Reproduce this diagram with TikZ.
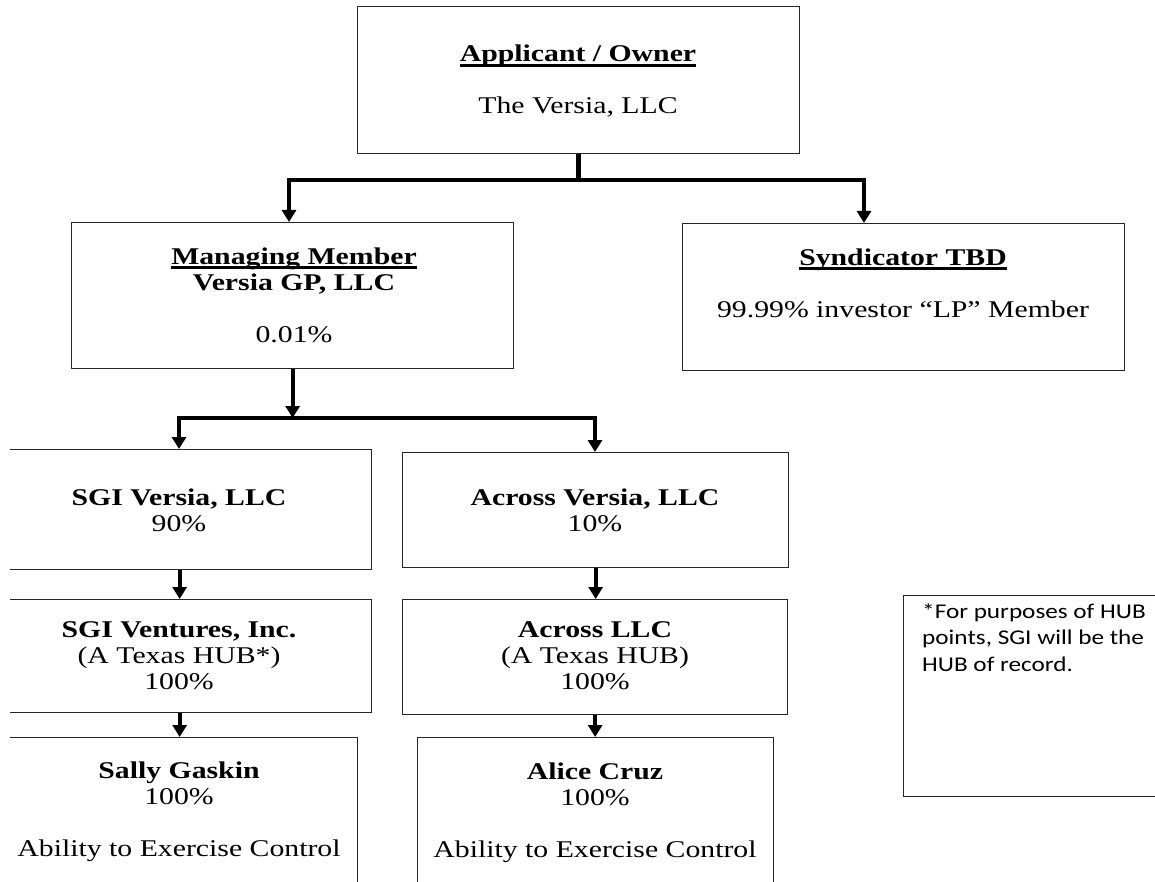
\documentclass[tikz,border=0pt]{standalone}
\usepackage{fontspec}
\setmainfont[FakeStretch=1.24]{Liberation Serif}
\newfontfamily\notefont[FakeStretch=1.2]{Carlito}
\usetikzlibrary{arrows.meta}

% heading with a heavy underline
\newcommand{\ulhead}[1]{\setbox0\hbox{\textbf{#1}}\rlap{\rule[-5pt]{\wd0}{2.6pt}}\box0}

\begin{document}
\begin{tikzpicture}[x=1pt,y=-1pt,
  box/.style={draw=black!85, line width=1.3pt, rectangle, inner sep=0pt, anchor=north west},
  % multi-line texts are placed by the baseline of their last line
  txt/.style={align=center, anchor=base, inner sep=0pt, font=\fontsize{24}{26}\selectfont},
  notetxt/.style={align=left, anchor=base west, inner sep=0pt, font=\notefont\fontsize{21}{26.5}\selectfont},
  bus/.style={line width=4pt, line cap=rect},
  stem/.style={line width=5pt},
  feed/.style={line width=4pt, -{Triangle[width=14pt,length=12pt]}},
]
\useasboundingbox (0,0) rectangle (1155,882);
\clip (10,0) rectangle (1155,882);

% ---- boxes ----
\node[box, minimum width=442pt, minimum height=147pt] (own)   at (357,6)   {};
\node[box, minimum width=442pt, minimum height=146pt] (mm)    at (71,222)  {};
\node[box, minimum width=442pt, minimum height=147pt] (syn)   at (682,223) {};
\node[box, minimum width=384pt, minimum height=120pt] (sgiv)  at (-13,449) {};
\node[box, minimum width=386pt, minimum height=115pt] (acv)   at (402,452) {};
\node[box, minimum width=384pt, minimum height=113pt] (sgvi)  at (-13,599) {};
\node[box, minimum width=385pt, minimum height=115pt] (acl)   at (402,599) {};
\node[box, minimum width=356pt, minimum height=180pt] (sally) at (1,737)   {};
\node[box, minimum width=356pt, minimum height=180pt] (alice) at (417,737) {};
\node[box, minimum width=280pt, minimum height=201pt] (note)  at (903,595) {};

% ---- texts ----
\node[txt] (ownT) at (578,114) {\ulhead{Applicant / Owner}\\[26pt]The Versia, LLC};
\node[txt] (mmT) at (294,342) {\ulhead{Managing Member}\\\textbf{Versia GP, LLC}\\[26pt]0.01\%};
\node[txt] (synT) at (903,317) {\ulhead{Syndicator TBD}\\[26pt]99.99\% investor “LP” Member};
\node[txt] (sgivT) at (179,531) {\textbf{SGI Versia, LLC}\\90\%};
\node[txt] (acvT) at (595,531) {\textbf{Across Versia, LLC}\\10\%};
\node[txt] (sgviT) at (179,689) {\textbf{SGI Ventures, Inc.}\\(A Texas HUB*)\\100\%};
\node[txt] (aclT) at (595,689) {\textbf{Across LLC}\\(A Texas HUB)\\100\%};
\node[txt] (sallyT) at (179,856) {\textbf{Sally Gaskin}\\100\%\\[26pt]Ability to Exercise Control};
\node[txt] (aliceT) at (595,857) {\textbf{Alice Cruz}\\100\%\\[26pt]Ability to Exercise Control};
\node[notetxt] (noteT) at (922,671) {*For purposes of HUB\\points, SGI will be the\\HUB of record.};

% ---- connectors ----
\coordinate (b1L) at (289,180);
\coordinate (b1R) at (864,180);
\coordinate (b2L) at (179,418);
\coordinate (b2R) at (595,418);

\draw[stem] (own.south) -- (own.south |- b1L);
\draw[bus] (b1L) -- (b1R);
\draw[feed] (b1L) -- (b1L |- mm.north);
\draw[feed] (b1R) -- (b1R |- syn.north);

\draw[feed] (mm.south) -- (mm.south |- b2L);
\draw[bus] (b2L) -- (b2R);
\draw[feed] (b2L) -- (b2L |- sgiv.north);
\draw[feed] (b2R) -- (b2R |- acv.north);

\draw[feed] (sgiv.south) -- (sgiv.south |- sgvi.north);
\draw[feed] (acv.south) -- (acv.south |- acl.north);
\draw[feed] (sgvi.south) -- (sgvi.south |- sally.north);
\draw[feed] (acl.south) -- (acl.south |- alice.north);
\end{tikzpicture}
\end{document}
